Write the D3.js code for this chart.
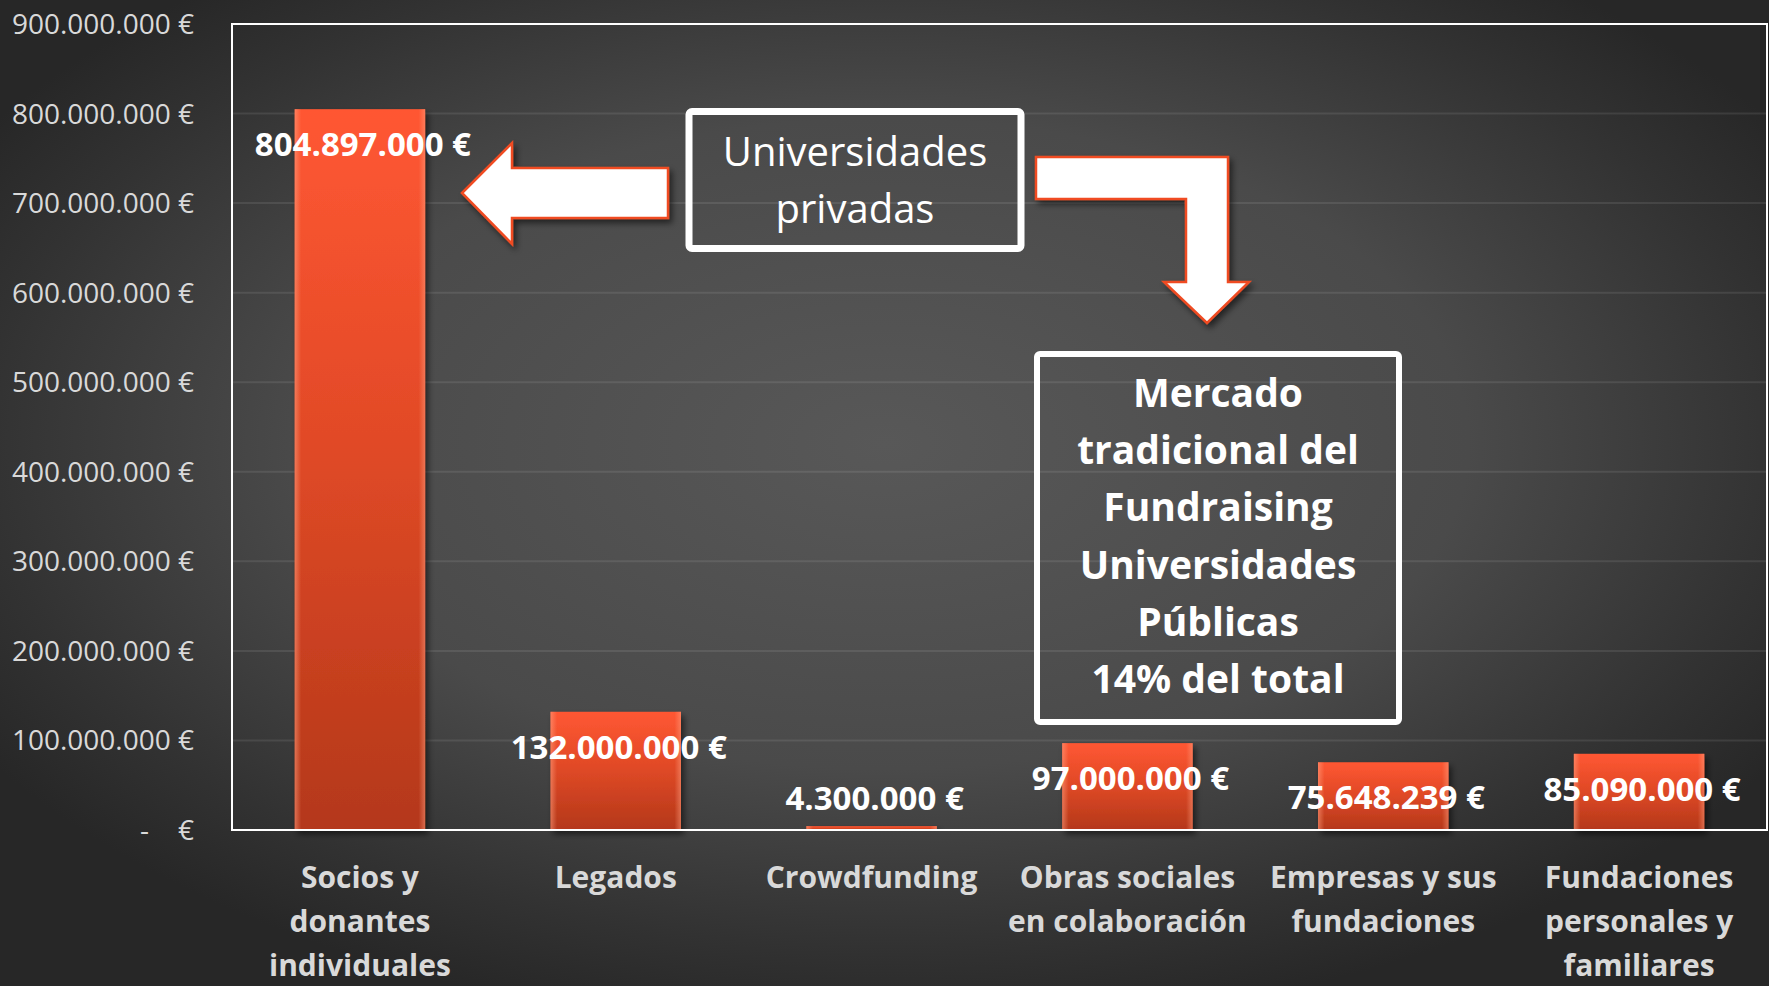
<!DOCTYPE html>
<html>
<head>
<meta charset="utf-8">
<script src="https://cdn.jsdelivr.net/npm/d3@7"></script>
<style>
  html, body { margin: 0; padding: 0; background: #2a2a2a; }
  #myPlot { width: 1769px; height: 986px; }
  text { font-family: "Open Sans", "DejaVu Sans", sans-serif; }
</style>
</head>
<body>
<div id="myPlot"></div>
<script>
const categories = [
    "Socios y\ndonantes\nindividuales",
    "Legados",
    "Crowdfunding",
    "Obras sociales\nen colaboración",
    "Empresas y sus\nfundaciones",
    "Fundaciones\npersonales y\nfamiliares"
]
const values = [804897000, 132000000, 4300000, 97000000, 75648239, 85090000]
const yTicks = [0, 100000000, 200000000, 300000000, 400000000, 500000000, 600000000, 700000000, 800000000, 900000000]
const yMax = 900000000
const noteLeft = ["Universidades", "privadas"]
const noteRight = ["Mercado", "tradicional del", "Fundraising", "Universidades", "Públicas", "14% del total"]

const rootSelector = "#myPlot"
const clientWidth = 1769
const clientHeight = 986
const margin = {top: 24, right: 2, bottom: 156, left: 232}
const width = clientWidth - margin.left - margin.right
const height = clientHeight - margin.top - margin.bottom

const esLocale = d3.formatLocale({decimal: ",", thousands: ".", grouping: [3], currency: ["", " €"]})
const euro = esLocale.format("$,.0f")

const root = d3.select(rootSelector).append("svg")
    .attr("width", clientWidth)
    .attr("height", clientHeight)

const defs = root.append("defs")

const bg = defs.append("radialGradient")
    .attr("id", "bg")
    .attr("cx", "50%").attr("cy", "45%").attr("r", "60%")
bg.append("stop").attr("offset", 0).attr("stop-color", "#585858")
bg.append("stop").attr("offset", 0.55).attr("stop-color", "#4a4a4a")
bg.append("stop").attr("offset", 0.85).attr("stop-color", "#323232")
bg.append("stop").attr("offset", 1).attr("stop-color", "#272727")

const barFill = defs.append("linearGradient")
    .attr("id", "barFill")
    .attr("x1", 0).attr("y1", 0).attr("x2", 0).attr("y2", 1)
barFill.append("stop").attr("offset", 0).attr("stop-color", "#ff5733")
barFill.append("stop").attr("offset", 0.45).attr("stop-color", "#e24a27")
barFill.append("stop").attr("offset", 1).attr("stop-color", "#b4381a")

const barEdge = defs.append("linearGradient")
    .attr("id", "barEdge")
    .attr("x1", 0).attr("y1", 0).attr("x2", 1).attr("y2", 0)
barEdge.append("stop").attr("offset", 0).attr("stop-color", "#ffa080").attr("stop-opacity", 0.55)
barEdge.append("stop").attr("offset", 0.05).attr("stop-color", "#ffa080").attr("stop-opacity", 0)
barEdge.append("stop").attr("offset", 0.95).attr("stop-color", "#ffa080").attr("stop-opacity", 0)
barEdge.append("stop").attr("offset", 1).attr("stop-color", "#ffa080").attr("stop-opacity", 0.5)

const shadow = defs.append("filter")
    .attr("id", "shadow")
    .attr("x", "-20%").attr("y", "-20%").attr("width", "140%").attr("height", "140%")
shadow.append("feDropShadow")
    .attr("dx", 3).attr("dy", 4).attr("stdDeviation", 3)
    .attr("flood-color", "#000").attr("flood-opacity", 0.55)

root.append("rect")
    .attr("width", clientWidth)
    .attr("height", clientHeight)
    .attr("fill", "url(#bg)")

const svg = root.append("g")
    .attr("transform", `translate(${margin.left}, ${margin.top})`)

const xScale = d3.scaleBand()
    .domain(categories)
    .range([0, width])
    .paddingInner(0.49)
    .paddingOuter(0.245)

const yScale = d3.scaleLinear()
    .domain([0, yMax])
    .range([height, 0])

// gridlines
svg.append("g")
    .selectAll("line")
    .data(yTicks.filter(t => t > 0 && t < yMax))
    .enter().append("line")
    .attr("x1", 0)
    .attr("x2", width)
    .attr("y1", d => yScale(d))
    .attr("y2", d => yScale(d))
    .attr("stroke", "#ffffff")
    .attr("stroke-opacity", 0.09)
    .attr("stroke-width", 2)

// y axis
const yAxis = d3.axisLeft(yScale)
    .tickValues(yTicks)
    .tickSize(0)
    .tickPadding(38)
    .tickFormat(d => d === 0 ? "-\u00a0\u00a0\u00a0\u00a0€" : euro(d))

const yAxisG = svg.append("g")
    .attr("class", "y axis")
    .call(yAxis)
yAxisG.select(".domain").remove()
yAxisG.selectAll("text")
    .attr("font-family", "'Open Sans', sans-serif")
    .attr("font-size", 28)
    .attr("fill", "#d9d9d9")
    .attr("dy", "0.34em")

// bars
const data = categories.map((c, i) => ({category: c, value: values[i]}))

const bars = svg.append("g")
    .selectAll(".bar")
    .data(data)
    .enter().append("g")
    .attr("class", "bar")

bars.append("rect")
    .attr("x", d => xScale(d.category))
    .attr("y", d => yScale(d.value))
    .attr("width", xScale.bandwidth())
    .attr("height", d => height - yScale(d.value))
    .attr("fill", "url(#barFill)")
    .attr("filter", "url(#shadow)")

bars.append("rect")
    .attr("x", d => xScale(d.category))
    .attr("y", d => yScale(d.value))
    .attr("width", xScale.bandwidth())
    .attr("height", d => height - yScale(d.value))
    .attr("fill", "url(#barEdge)")

// plot frame
svg.append("rect")
    .attr("x", 0)
    .attr("y", 0)
    .attr("width", width)
    .attr("height", height)
    .attr("fill", "none")
    .attr("stroke", "#ffffff")
    .attr("stroke-width", 2)

// value labels
bars.append("text")
    .attr("x", d => xScale(d.category) + xScale.bandwidth() / 2 + 3)
    .attr("y", d => (height - yScale(d.value)) > 60 ? yScale(d.value) + 47 : yScale(d.value) - 16)
    .attr("text-anchor", "middle")
    .attr("font-size", 33)
    .attr("font-weight", "bold")
    .attr("fill", "#ffffff")
    .text(d => euro(d.value))

// x labels
const xLabels = svg.append("g")
    .selectAll(".xlabel")
    .data(categories)
    .enter().append("text")
    .attr("class", "xlabel")
    .attr("text-anchor", "middle")
    .attr("font-size", 30)
    .attr("font-weight", "bold")
    .attr("fill", "#d9d9d9")
    .attr("transform", d => `translate(${xScale(d) + xScale.bandwidth() / 2}, ${height + 58})`)

xLabels.selectAll("tspan")
    .data(d => d.split("\n"))
    .enter().append("tspan")
    .attr("x", 0)
    .attr("y", (d, i) => i * 44)
    .text(d => d)

// annotations
const arrowStroke = "#f04b22"

root.append("path")
    .attr("d", "M462,193 L512,143 L512,168 L668,168 L668,218 L512,218 L512,244 Z")
    .attr("fill", "#ffffff")
    .attr("stroke", arrowStroke)
    .attr("stroke-width", 2.5)
    .attr("filter", "url(#shadow)")

root.append("path")
    .attr("d", "M1036,157 L1228,157 L1228,282 L1249,282 L1207,323 L1164,282 L1186,282 L1186,199 L1036,199 Z")
    .attr("fill", "#ffffff")
    .attr("stroke", arrowStroke)
    .attr("stroke-width", 2.5)
    .attr("filter", "url(#shadow)")

root.append("rect")
    .attr("x", 689).attr("y", 111.5)
    .attr("width", 332).attr("height", 137)
    .attr("rx", 3)
    .attr("fill", "none")
    .attr("stroke", "#ffffff")
    .attr("stroke-width", 7)

root.append("g")
    .selectAll("text")
    .data(noteLeft)
    .enter().append("text")
    .attr("x", 855)
    .attr("y", (d, i) => 166 + i * 57)
    .attr("text-anchor", "middle")
    .attr("font-size", 40)
    .attr("fill", "#ffffff")
    .text(d => d)

root.append("rect")
    .attr("x", 1037).attr("y", 354)
    .attr("width", 362).attr("height", 368)
    .attr("rx", 3)
    .attr("fill", "none")
    .attr("stroke", "#ffffff")
    .attr("stroke-width", 6)

root.append("g")
    .selectAll("text")
    .data(noteRight)
    .enter().append("text")
    .attr("x", 1218)
    .attr("y", (d, i) => 407 + i * 57.2)
    .attr("text-anchor", "middle")
    .attr("font-size", 39)
    .attr("font-weight", "bold")
    .attr("fill", "#ffffff")
    .text(d => d)
</script>
</body>
</html>
